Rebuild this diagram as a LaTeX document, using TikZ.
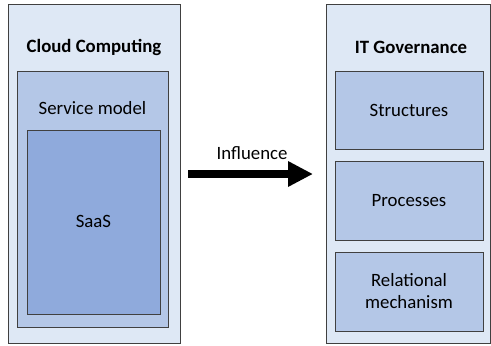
\documentclass[tikz,border=0pt]{standalone}
\usepackage{fontspec}
\setmainfont{Carlito}
\usetikzlibrary{arrows.meta}
\definecolor{lightb}{HTML}{DEE8F5}
\definecolor{midb}{HTML}{B4C7E7}
\definecolor{darkb}{HTML}{8FAADC}
\definecolor{edge}{HTML}{404040}
\begin{document}
\begin{tikzpicture}[x=1pt,y=-1pt,
  box/.style={draw=edge,line width=0.8pt},
  lbl/.style={font=\fontsize{18.8}{22}\selectfont,align=center}]
\useasboundingbox (0,0) rectangle (491,346);
% left
\draw[box,fill=lightb] (8,4) rectangle (180,343);
\coordinate (ccE) at (180,174);
\node[lbl,font=\fontsize{18.8}{22}\selectfont\bfseries] (cc) at (94,47) {Cloud Computing};
\draw[box,fill=midb] (17,71) rectangle (168,327);
\node[lbl] (sm) at (92.5,108) {Service model};
\draw[box,fill=darkb] (27,130) rectangle (160,314);
\node[lbl] (saas) at (93.5,221) {SaaS};
% right
\draw[box,fill=lightb] (326,4) rectangle (490,343);
\coordinate (itW) at (326,174);
\node[lbl,font=\fontsize{18.8}{22}\selectfont\bfseries] (it) at (411,47) {IT Governance};
\draw[box,fill=midb] (335,71) rectangle (483,149);
\node[lbl] (st) at (409,110) {Structures};
\draw[box,fill=midb] (335,161) rectangle (483,240);
\node[lbl] (pr) at (409,200.5) {Processes};
\draw[box,fill=midb] (335,252) rectangle (483,331);
\node[lbl] (rm) at (409,291.5) {Relational\\mechanism};
% arrow
\draw[line width=8pt,-{Triangle[length=25pt,width=24pt]},shorten <=8pt,shorten >=13pt] (ccE) -- (itW);
\node[lbl] (inf) at (252,153) {Influence};
\end{tikzpicture}
\end{document}
